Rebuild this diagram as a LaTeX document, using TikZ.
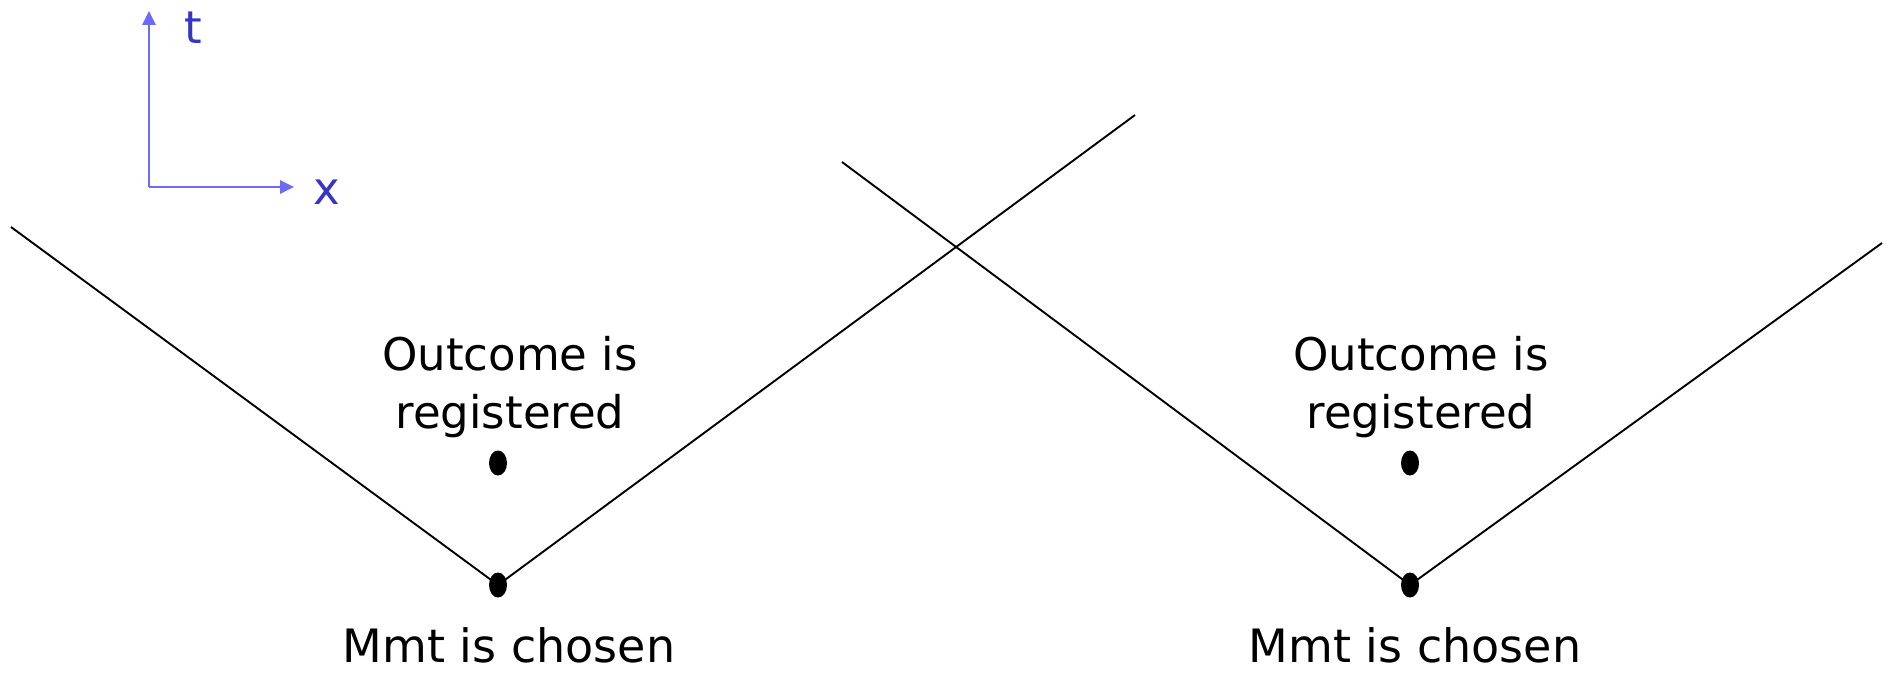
\documentclass[tikz,border=0pt]{standalone}
\usepackage{fontspec}
\setmainfont{DejaVu Sans}
\usetikzlibrary{arrows.meta,shapes.geometric}
\definecolor{axisblue}{HTML}{6B6BF5}
\definecolor{labelblue}{HTML}{3535C8}
\tikzset{
  cone/.style={line width=1.9pt, black},
  event/.style={ellipse, fill=black, minimum width=18pt, minimum height=25pt, inner sep=0pt},
  caption/.style={font=\fontsize{45}{58}\selectfont, anchor=base, align=center, inner sep=0pt},
  axis/.style={draw=axisblue, line width=2.6pt, -{Triangle[length=14pt,width=13pt]}},
  axislabel/.style={text=labelblue, font=\fontsize{45}{54}\selectfont, inner sep=0pt}
}
\begin{document}
\begin{tikzpicture}[x=1pt,y=-1pt]
\useasboundingbox (0,0) rectangle (1894,677);
% axes
\coordinate (O) at (149,187);
\coordinate (T) at (149,11);
\coordinate (X) at (294,187);
\draw[axis] (O) -- (T);
\draw[axis] (O) -- (X);
\node[axislabel] (tl) at (193,28) {t};
\node[axislabel] (xl) at (327,192) {x};
% left cone
\node[event] (v1) at (498,585) {};
\node[event] (r1) at (498,463) {};
\coordinate (l1a) at (11,227);
\coordinate (l1b) at (1135,115);
\draw[cone] (l1a) -- (v1.center) -- (l1b);
% right cone
\node[event] (v2) at (1410,585) {};
\node[event] (r2) at (1410,463) {};
\coordinate (l2a) at (842,162);
\coordinate (l2b) at (1882,243);
\draw[cone] (l2a) -- (v2.center) -- (l2b);
% texts
\node[caption] (o1) at (510,428) {Outcome is\\registered};
\node[caption] (o2) at (1421,428) {Outcome is\\registered};
\node[caption, font=\fontsize{46}{58}\selectfont] (m1) at (509,662) {Mmt is chosen};
\node[caption, font=\fontsize{46}{58}\selectfont] (m2) at (1415,662) {Mmt is chosen};
\end{tikzpicture}
\end{document}
